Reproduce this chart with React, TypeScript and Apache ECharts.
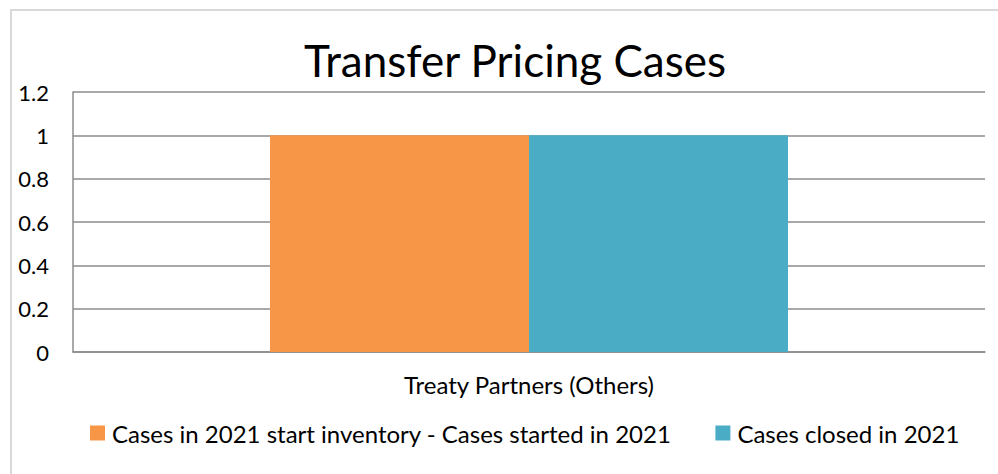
import React, { useEffect, useRef } from "react";
import * as echarts from "echarts";

const categories = ["Treaty Partners (Others)"];
const seriesNames = [
  "Cases in 2021 start inventory - Cases started in 2021",
  "Cases closed in 2021",
];
const startedValues = [1];
const closedValues = [1];
const yTicks = { min: 0, max: 1.2, interval: 0.2 };

const FONT = "Lato, 'Noto Sans', sans-serif";

export default function App() {
  const ref = useRef<HTMLDivElement>(null);
  useEffect(() => {
    if (!ref.current) return;
    const chart = echarts.init(ref.current, undefined, { renderer: "svg" });
    chart.setOption({
      animation: false,
      backgroundColor: "#ffffff",
      textStyle: { fontFamily: FONT },
      title: {
        text: "Transfer Pricing Cases",
        left: 510,
        textAlign: "center",
        top: 33,
        textStyle: { fontFamily: FONT, fontSize: 44, fontWeight: "normal", color: "#000" },
      },
      graphic: [
        {
          type: "rect",
          shape: { x: 11, y: 10, width: 1100, height: 600 },
          style: { fill: "none", stroke: "#d9d9d9", lineWidth: 2 },
          silent: true,
        },
      ],
      grid: { left: 73, right: 13, top: 92, bottom: 122, containLabel: false },
      legend: {
        bottom: 24,
        left: 85,
        icon: "rect",
        itemWidth: 15,
        itemHeight: 15,
        itemGap: 44,
        textStyle: { fontFamily: FONT, fontSize: 24, color: "#000", padding: [0, 0, 0, 2] },
        data: seriesNames,
      },
      xAxis: {
        type: "category",
        data: categories,
        axisLine: { show: true, lineStyle: { color: "#8c8c8c", width: 1.5 } },
        axisTick: { show: false },
        axisLabel: { fontFamily: FONT, fontSize: 24, color: "#000", margin: 20 },
      },
      yAxis: {
        type: "value",
        min: yTicks.min,
        max: yTicks.max,
        interval: yTicks.interval,
        axisLine: { show: true, lineStyle: { color: "#8c8c8c", width: 1.5 } },
        axisTick: { show: false },
        splitLine: { show: true, lineStyle: { color: "#8c8c8c", width: 1.5 } },
        axisLabel: {
          fontFamily: FONT,
          fontSize: 22,
          color: "#000",
          margin: 24,
          formatter: (v: number) => String(Math.round(v * 10) / 10),
        },
      },
      series: [
        {
          name: seriesNames[0],
          type: "bar",
          data: startedValues,
          itemStyle: { color: "#F79646" },
          barGap: "0%",
          barCategoryGap: "43.2%",
        },
        {
          name: seriesNames[1],
          type: "bar",
          data: closedValues,
          itemStyle: { color: "#4BACC6" },
          barGap: "0%",
          barCategoryGap: "43.2%",
        },
      ],
    });
    return () => chart.dispose();
  }, []);
  return (
    <div
      ref={ref}
      style={{ position: "fixed", left: 0, top: 0, width: 998, height: 474 }}
    />
  );
}
